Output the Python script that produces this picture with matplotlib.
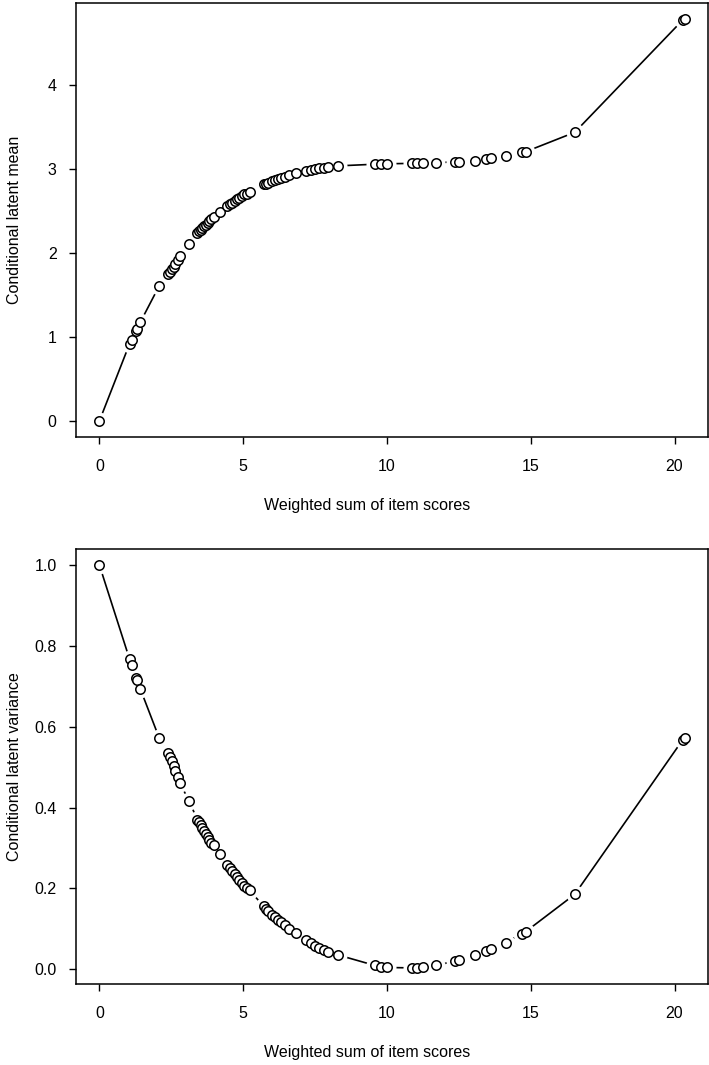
import matplotlib.pyplot as plt
import numpy as np

plt.rcParams['font.family'] = ['Liberation Sans', 'DejaVu Sans']

# weighted sum of item scores (shared by both panels)
score = [0, 1.05, 1.13, 1.28, 1.32, 1.42, 2.08,
         2.40, 2.46, 2.52, 2.58, 2.64, 2.72, 2.80,
         3.13,
         3.40, 3.46, 3.52, 3.58, 3.64, 3.70, 3.76, 3.82, 3.89, 3.97,
         4.20,
         4.45, 4.53, 4.62, 4.70, 4.78, 4.86, 4.95, 5.04, 5.12, 5.22,
         5.72, 5.80, 5.88, 6.00, 6.10, 6.20, 6.30, 6.45, 6.58,
         6.82,
         7.18, 7.35, 7.50, 7.62, 7.80, 7.95,
         8.30,
         9.58, 9.80, 10.00,
         10.86, 11.03, 11.26, 11.72,
         12.36, 12.51, 13.06, 13.46, 13.63, 14.13, 14.68, 14.83,
         16.53, 20.29, 20.35]

cond_mean = [0, 0.92, 0.97, 1.07, 1.10, 1.175, 1.61,
             1.75, 1.78, 1.81, 1.84, 1.87, 1.92, 1.97,
             2.11,
             2.24, 2.26, 2.28, 2.30, 2.32, 2.34, 2.36, 2.38, 2.41, 2.43,
             2.49,
             2.56, 2.58, 2.60, 2.62, 2.64, 2.66, 2.68, 2.70, 2.71, 2.73,
             2.82, 2.83, 2.84, 2.86, 2.87, 2.88, 2.90, 2.91, 2.93,
             2.96,
             2.98, 2.99, 3.00, 3.01, 3.02, 3.03,
             3.04,
             3.06, 3.06, 3.065,
             3.07, 3.07, 3.07, 3.075,
             3.09, 3.09, 3.10, 3.12, 3.13, 3.16, 3.20, 3.21,
             3.44, 4.78, 4.79]

cond_var = [1.0, 0.767, 0.752, 0.721, 0.715, 0.694, 0.572,
            0.535, 0.525, 0.514, 0.502, 0.490, 0.475, 0.460,
            0.415,
            0.370, 0.363, 0.356, 0.349, 0.342, 0.335, 0.328, 0.320, 0.313, 0.306,
            0.285,
            0.257, 0.250, 0.242, 0.235, 0.228, 0.221, 0.213, 0.206, 0.200, 0.195,
            0.155, 0.150, 0.143, 0.135, 0.128, 0.122, 0.116, 0.108, 0.100,
            0.090,
            0.072, 0.065, 0.058, 0.053, 0.047, 0.043,
            0.035,
            0.009, 0.006, 0.004,
            0.003, 0.003, 0.005, 0.009,
            0.020, 0.022, 0.034, 0.045, 0.050, 0.065, 0.088, 0.093,
            0.185, 0.568, 0.573]

fig = plt.figure(figsize=(7.09, 10.65), dpi=100)
ax1 = fig.add_axes([76/709, 1 - 437/1065, 632/709, 434/1065])
ax2 = fig.add_axes([76/709, 1 - 984/1065, 632/709, 435/1065])


def draw(ax, x, y, ylab, yticks, yfmt):
    # R type="b": line with gaps around the open circles
    ax.plot(x, y, color='black', lw=1.2, zorder=1)
    ax.plot(x, y, 'o', ms=13, mfc='white', mec='none', zorder=2)
    ax.plot(x, y, 'o', ms=6.8, mfc='white', mec='black', mew=1.1, zorder=3)
    pad = 0.04 * (max(y) - min(y))
    ax.set_ylim(min(y) - pad, max(y) + pad)
    ax.set_xlim(-0.04 * 20.35, 20.35 * 1.04)
    ax.set_xticks([0, 5, 10, 15, 20])
    ax.set_yticks(yticks)
    ax.set_yticklabels([yfmt.format(v) for v in yticks])
    ax.tick_params(direction='out', length=5, width=1, labelsize=11.5)
    ax.tick_params(axis='x', pad=11)
    ax.tick_params(axis='y', pad=9)
    for s in ax.spines.values():
        s.set_linewidth(1.1)
    ax.set_xlabel('Weighted sum of item scores', fontsize=11.5)
    ax.set_ylabel(ylab, fontsize=11.5)
    ax.xaxis.set_label_coords(0.46, -0.141)
    ax.yaxis.set_label_coords(-0.086, 0.5)


draw(ax1, score, cond_mean, 'Conditional latent mean', [0, 1, 2, 3, 4], '{:g}')
draw(ax2, score, cond_var, 'Conditional latent variance',
     [0, 0.2, 0.4, 0.6, 0.8, 1.0], '{:.1f}')

plt.savefig('out.png', dpi=100)
